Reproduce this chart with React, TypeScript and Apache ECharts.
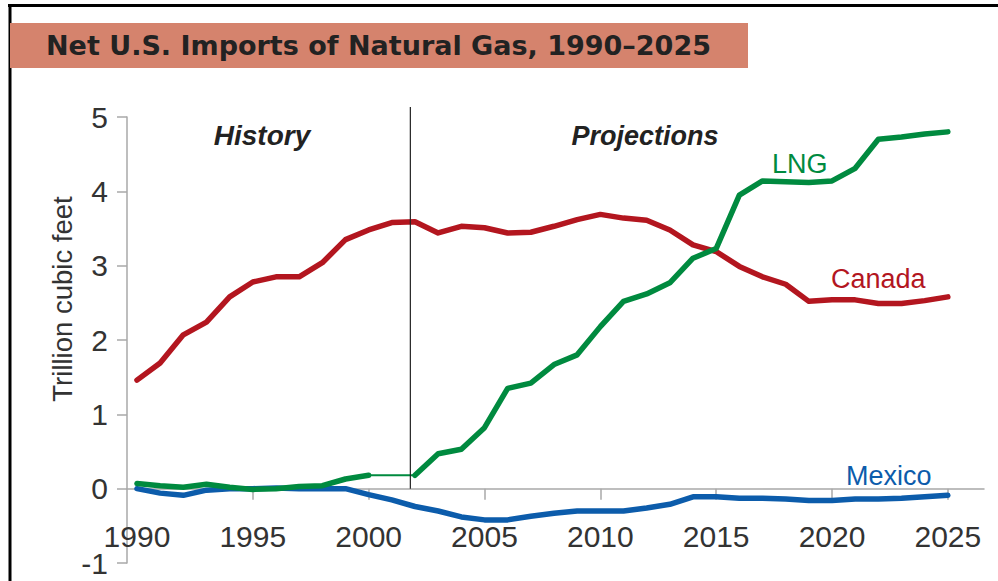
import React, { useEffect, useRef } from "react";
import * as echarts from "echarts";

const years = [
  1990, 1991, 1992, 1993, 1994, 1995, 1996, 1997, 1998, 1999,
  2000, 2001, 2002, 2003, 2004, 2005, 2006, 2007, 2008, 2009,
  2010, 2011, 2012, 2013, 2014, 2015, 2016, 2017, 2018, 2019,
  2020, 2021, 2022, 2023, 2024, 2025,
];

const canada = [
  1.46, 1.69, 2.07, 2.24, 2.58, 2.78, 2.85, 2.85, 3.04, 3.35,
  3.48, 3.58, 3.59, 3.44, 3.53, 3.51, 3.44, 3.45, 3.53, 3.62,
  3.69, 3.64, 3.61, 3.48, 3.28, 3.19, 2.99, 2.85, 2.75, 2.52,
  2.54, 2.54, 2.49, 2.49, 2.53, 2.58,
];

const lng = [
  0.07, 0.04, 0.02, 0.06, 0.02, -0.01, 0.0, 0.03, 0.04, 0.13,
  0.18, 0.18, 0.18, 0.47, 0.53, 0.82, 1.35, 1.42, 1.67, 1.8,
  2.18, 2.52, 2.62, 2.77, 3.1, 3.23, 3.95, 4.14, 4.13, 4.12,
  4.14, 4.31, 4.7, 4.73, 4.77, 4.8,
];

const mexico = [
  0.0, -0.06, -0.09, -0.02, 0.0, 0.0, 0.01, 0.0, 0.0, 0.0,
  -0.08, -0.15, -0.24, -0.3, -0.38, -0.42, -0.42, -0.37, -0.33, -0.3,
  -0.3, -0.3, -0.26, -0.21, -0.11, -0.11, -0.13, -0.13, -0.14, -0.16,
  -0.16, -0.14, -0.14, -0.13, -0.11, -0.09,
];

// LNG segment drawn with a thin line
const lngThinFrom = 2000;
const lngThinTo = 2002;

const xLabelYears = [1990, 1995, 2000, 2005, 2010, 2015, 2020, 2025];
const xTickYears = [1995, 2000, 2005, 2010, 2015, 2020, 2025];
const historyEnd = 2001.8;
const X_MIN = 1989.57;
const X_MAX = 2026.56;
const Y_MIN = -1;
const Y_MAX = 5;

const titleText = "Net U.S. Imports of Natural Gas, 1990\u20132025";
const yAxisName = "Trillion cubic feet";

const RED = "#b3161f";
const GREEN = "#008a3f";
const BLUE = "#0c5cab";
const AXIS = "#a8a8a8";
const FONT = "'Liberation Sans', Arial, sans-serif";

const GRID_TOP = 117;
const GRID_BOTTOM = 18;
const CHART_H = 581;

export default function App() {
  const ref = useRef<HTMLDivElement>(null);

  useEffect(() => {
    document.body.style.margin = "0";
    if (!ref.current) return;
    const chart = echarts.init(ref.current, undefined, { renderer: "svg" });

    const pair = (arr: number[]) => years.map((y, i) => [y, arr[i]]);
    const lngThick = years.map((y, i) => [y, y > lngThinFrom && y < lngThinTo ? null : lng[i]]);
    const lngThin = years
      .map((y, i) => [y, lng[i]])
      .filter((p) => p[0] >= lngThinFrom && p[0] <= lngThinTo);

    // offset of the label axis so that it sits on the zero line
    const gridH = CHART_H - GRID_TOP - GRID_BOTTOM;
    const zeroOffset = -((0 - Y_MIN) / (Y_MAX - Y_MIN)) * gridH;

    const lineBase = {
      type: "line" as const,
      symbol: "none",
      showSymbol: false,
      silent: true,
    };

    chart.setOption({
      animation: false,
      backgroundColor: "#ffffff",
      grid: {
        left: 127,
        right: 14,
        top: GRID_TOP,
        bottom: GRID_BOTTOM,
        containLabel: false,
        outerBoundsMode: "none",
      },
      xAxis: [
        {
          type: "value",
          min: X_MIN,
          max: X_MAX,
          axisLine: { onZero: true, lineStyle: { color: AXIS, width: 1.5 } },
          axisTick: {
            show: true,
            customValues: xTickYears,
            length: 11,
            lineStyle: { color: AXIS, width: 1.5 },
          },
          axisLabel: { show: false },
          splitLine: { show: false },
        },
        {
          type: "value",
          min: X_MIN,
          max: X_MAX,
          position: "bottom",
          offset: zeroOffset,
          axisLine: { show: false, onZero: false },
          axisTick: { show: false },
          axisLabel: {
            customValues: xLabelYears,
            formatter: (v: number) => String(Math.round(v)),
            margin: 33,
            fontSize: 30,
            lineHeight: 30,
            color: "#333",
            fontFamily: FONT,
          },
          splitLine: { show: false },
        },
      ],
      yAxis: {
        type: "value",
        min: Y_MIN,
        max: Y_MAX,
        interval: 1,
        axisLine: { show: true, lineStyle: { color: AXIS, width: 1.5 } },
        axisTick: { show: true, length: 10, lineStyle: { color: AXIS, width: 1.5 } },
        axisLabel: {
          margin: 19,
          fontSize: 30,
          color: "#333",
          fontFamily: FONT,
        },
        splitLine: { show: false },
      },
      series: [
        {
          ...lineBase,
          name: "Mexico",
          data: pair(mexico),
          lineStyle: { color: BLUE, width: 5.5, cap: "round", join: "round" },
        },
        {
          ...lineBase,
          name: "Canada",
          data: pair(canada),
          lineStyle: { color: RED, width: 5.5, cap: "round", join: "round" },
        },
        {
          ...lineBase,
          name: "LNG",
          data: lngThick,
          connectNulls: false,
          lineStyle: { color: GREEN, width: 5.5, cap: "round", join: "round" },
        },
        {
          ...lineBase,
          name: "LNG thin",
          data: lngThin,
          lineStyle: { color: GREEN, width: 2 },
        },
      ],
      graphic: [
        { type: "line", id: "topBorder", shape: { x1: 8, y1: 5.5, x2: 998, y2: 5.5 }, style: { stroke: "#000", lineWidth: 3 } },
        { type: "line", id: "leftBorder", shape: { x1: 10, y1: 4, x2: 10, y2: 581 }, style: { stroke: "#000", lineWidth: 3 } },
        { type: "rect", id: "titleBg", shape: { x: 10, y: 23, width: 738, height: 45 }, style: { fill: "#d5836d" } },
        {
          type: "text",
          id: "title",
          x: 46,
          y: 45,
          style: {
            text: titleText,
            fill: "#222",
            font: "bold 27px 'DejaVu Sans', sans-serif",
            align: "left",
            verticalAlign: "middle",
          },
        },
        {
          type: "text",
          id: "history",
          x: 262,
          y: 135,
          style: {
            text: "History",
            fill: "#222",
            font: "italic bold 28px 'Liberation Sans', Arial, sans-serif",
            align: "center",
            verticalAlign: "middle",
          },
        },
        {
          type: "text",
          id: "projections",
          x: 645,
          y: 136,
          style: {
            text: "Projections",
            fill: "#222",
            font: "italic bold 27px 'Liberation Sans', Arial, sans-serif",
            align: "center",
            verticalAlign: "middle",
          },
        },
        {
          type: "text",
          id: "lblLNG",
          x: 772,
          y: 164,
          style: { text: "LNG", fill: GREEN, font: `27px ${FONT}`, align: "left", verticalAlign: "middle" },
        },
        {
          type: "text",
          id: "lblCanada",
          x: 831,
          y: 279,
          style: { text: "Canada", fill: RED, font: `27px ${FONT}`, align: "left", verticalAlign: "middle" },
        },
        {
          type: "text",
          id: "lblMexico",
          x: 846,
          y: 476,
          style: { text: "Mexico", fill: BLUE, font: `27px ${FONT}`, align: "left", verticalAlign: "middle" },
        },
        {
          type: "text",
          id: "yName",
          x: 62,
          y: 299,
          rotation: Math.PI / 2,
          style: { text: yAxisName, fill: "#333", font: `27.5px ${FONT}`, align: "center", verticalAlign: "middle" },
        },
      ],
    });

    const dx = chart.convertToPixel({ xAxisIndex: 0 }, historyEnd) as number;
    const y0 = chart.convertToPixel({ yAxisIndex: 0 }, 0) as number;
    const yTop = (chart.convertToPixel({ yAxisIndex: 0 }, Y_MAX) as number) - 10;
    chart.setOption({
      graphic: [
        {
          type: "line",
          id: "divider",
          shape: { x1: dx, y1: yTop, x2: dx, y2: y0 },
          style: { stroke: "#222", lineWidth: 1.2 },
          z: 10,
        },
      ],
    });

    return () => chart.dispose();
  }, []);

  return <div ref={ref} style={{ width: 998, height: 581 }} />;
}
